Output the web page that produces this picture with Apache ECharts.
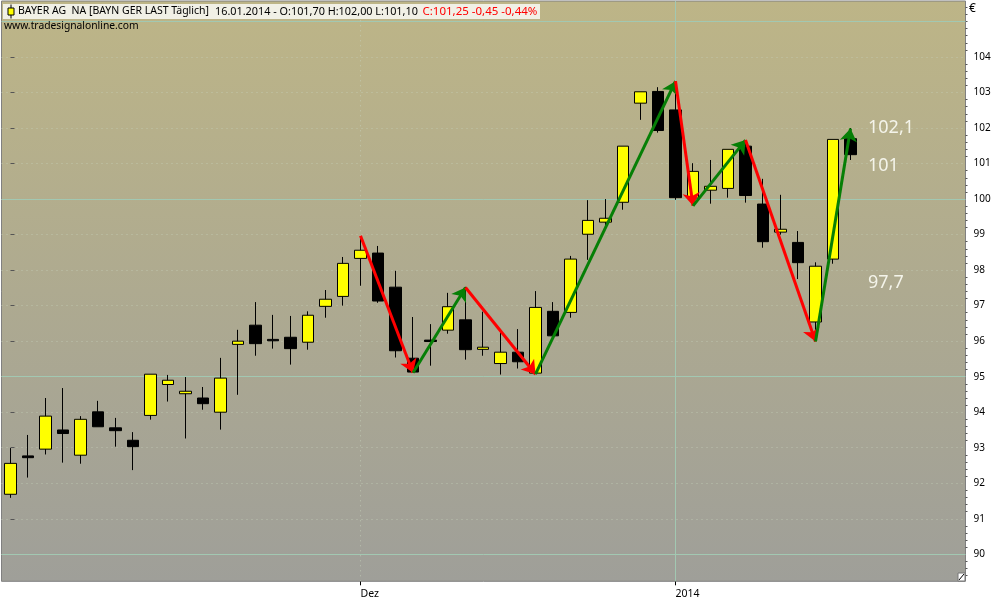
<!DOCTYPE html>
<html>
<head>
<meta charset="utf-8">
<style>html,body{margin:0;padding:0;background:#fff}#c{width:1000px;height:600px}</style>
<script src="https://cdn.jsdelivr.net/npm/echarts@6/dist/echarts.min.js"></script>
</head>
<body>
<div id="c"></div>
<script>
const opens  = [91.69,92.77,92.96,93.50,92.79,94.01,93.56,93.21,93.91,94.78,94.52,94.40,94.00,95.91,96.45,96.05,96.11,95.97,96.98,97.26,98.33,98.48,97.52,95.52,96.03,96.31,96.60,95.77,95.37,95.69,95.10,96.84,96.81,99.01,99.35,99.91,102.70,103.03,102.51,100.03,100.25,100.30,101.49,99.86,99.07,98.78,96.54,98.31,101.70];
const closes = [92.56,92.72,93.89,93.40,93.80,93.59,93.48,93.03,95.07,94.90,94.59,94.24,94.96,96.00,95.93,96.01,95.79,96.73,97.18,98.19,98.56,97.13,95.73,95.13,95.99,96.97,95.76,95.83,95.69,95.42,96.95,96.15,98.31,99.40,99.46,101.49,103.02,101.93,100.04,100.78,100.36,101.40,100.10,98.80,99.15,98.21,98.11,101.68,101.25];
const lows   = [91.59,92.16,92.81,92.58,92.55,93.59,93.03,92.37,93.79,94.30,93.26,94.07,93.51,94.49,95.59,95.79,95.34,95.76,96.66,97.00,97.56,97.08,95.54,95.13,95.31,96.21,95.48,95.59,95.06,95.23,95.10,96.15,96.66,98.29,99.19,99.70,102.23,101.87,99.98,99.86,99.87,100.04,99.90,98.63,99.00,97.75,96.32,98.18,101.10];
const highs  = [92.99,93.36,94.40,94.68,93.89,94.32,93.84,93.44,95.07,95.05,94.99,94.71,95.53,96.32,97.10,96.74,96.71,96.84,97.44,98.37,98.93,98.68,97.98,96.68,96.48,97.36,97.53,96.83,96.27,96.34,97.41,97.10,98.40,99.97,100.00,101.49,103.02,103.15,103.21,101.01,101.10,101.40,101.58,100.57,100.12,99.10,98.22,101.68,102.00];

const arrowIdx = [20,23,26,30,38,39,42,46,48];
const arrowVal = [98.97,95.11,97.51,95.07,103.32,99.81,101.66,95.99,101.99];

const yTickLabels = [90,91,92,93,94,95,96,97,98,99,100,101,102,103,104];
const solidLevels = [90,95,100,105];
const minorTicks = [89.4,89.6,89.8,90.2,90.4,90.6,90.8,91.2,91.4,91.6,91.8,92.2,92.4,92.6,92.8,93.2,93.4,93.6,93.8,94.2,94.4,94.6,94.8,95.2,95.4,95.6,95.8,96.2,96.4,96.6,96.8,97.2,97.4,97.6,97.8,98.2,98.4,98.6,98.8,99.2,99.4,99.6,99.8,100.2,100.4,100.6,100.8,101.2,101.4,101.6,101.8,102.2,102.4,102.6,102.8,103.2,103.4,103.6,103.8,104.2,104.4,104.6,104.8,105,105.2,105.4];
const xTickIdx = [20,38];
const xTickNames = ['Dez','2014'];

const YMIN = 89.24, YMAX = 105.576, XMIN = -0.514, XMAX = 54.57;
const FONT = '"Noto Sans", sans-serif';
const GRIDLINE = '#a2c8b2';
const DOTS = '#c6d2ba';

const chart = echarts.init(document.getElementById('c'));
const candleData = opens.map((o,i)=>[i,o,closes[i],lows[i],highs[i]]);
const arrows = arrowIdx.slice(0,-1).map((x,i)=>({
  coords:[[x,arrowVal[i]],[arrowIdx[i+1],arrowVal[i+1]]],
  lineStyle:{color: arrowVal[i+1]>arrowVal[i] ? '#067f06' : '#ff0000', width:3, opacity:1, curveness:0}
}));
const marks = solidLevels.map(v=>({yAxis:v,lineStyle:{color:GRIDLINE,width:1,type:'solid'}}))
  .concat([{xAxis:xTickIdx[0],lineStyle:{color:DOTS,width:1,opacity:0.7,type:[1,4]}},
           {xAxis:xTickIdx[1],lineStyle:{color:GRIDLINE,width:1,type:'solid'}}]);

function text(x,y,t,fill,size,extra){
  return Object.assign({type:'text',x:x,y:y,z:50,silent:true,
    style:{text:t,fill:fill,font:size+'px '+FONT,textVerticalAlign:'middle'}},extra||{});
}

chart.setOption({
  animation:false,
  backgroundColor:'#ffffff',
  grid:{left:1.5,right:34.5,top:1,bottom:18.7,show:true,borderColor:'#808080',borderWidth:1,
    backgroundColor:new echarts.graphic.LinearGradient(0,0,0,1,[
      {offset:0,color:'#bdb587'},{offset:1,color:'#9f9f99'}])},
  xAxis:{type:'value',min:XMIN,max:XMAX,scale:true,
    axisLine:{show:false},
    axisTick:{show:true,length:4,customValues:xTickIdx,lineStyle:{color:'#000'}},
    splitLine:{show:false},
    axisLabel:{show:true,customValues:xTickIdx,margin:7,color:'#000',fontSize:10.5,fontFamily:'"Noto Sans", sans-serif',align:'left',
      formatter:v=>xTickNames[xTickIdx.indexOf(v)]||''}},
  yAxis:[
    {type:'value',position:'right',min:YMIN,max:YMAX,scale:true,
     axisLine:{show:false},
     axisTick:{show:true,length:4,customValues:yTickLabels,lineStyle:{color:'#555'}},
     axisLabel:{show:true,customValues:yTickLabels,margin:8,color:'#000',fontSize:10,fontFamily:'"Noto Sans", sans-serif',padding:[2,0,0,0]},
     splitLine:{show:true,lineStyle:{color:DOTS,width:1,opacity:0.7,type:[1,4]}}},
    {type:'value',position:'right',min:YMIN,max:YMAX,scale:true,
     axisLine:{show:false},
     axisTick:{show:true,length:2,customValues:minorTicks,lineStyle:{color:'#555'}},
     axisLabel:{show:false},splitLine:{show:false}}
  ],
  series:[
    {type:'line',data:[],z:1,silent:true,
     markLine:{silent:true,symbol:'none',animation:false,label:{show:false},z:1,data:marks}},
    {type:'candlestick',data:candleData,barWidth:12,z:3,silent:true,
     itemStyle:{color:'#ffff00',color0:'#000000',borderColor:'#000000',borderColor0:'#000000',borderWidth:1}},
    {type:'lines',coordinateSystem:'cartesian2d',z:5,silent:true,symbol:['none','arrow'],symbolSize:[0,13],
     lineStyle:{width:3,opacity:1,curveness:0},
     data:arrows}
  ],
  graphic:[
    {type:'rect',z:40,silent:true,shape:{x:3,y:4,width:537,height:15},style:{fill:'#f1f0e6'}},
    {type:'rect',z:41,silent:true,shape:{x:10.5,y:4.5,width:1,height:14},style:{fill:'#000'}},
    {type:'rect',z:42,silent:true,shape:{x:8,y:8,width:6,height:7},style:{fill:'#ffff00',stroke:'#000',lineWidth:1}},
    text(18,11.5,'BAYER AG  NA [BAYN GER LAST Täglich]','#000',10.5),
    text(215,11.5,'16.01.2014 - O:101,70 H:102,00 L:101,10','#000',10.85),
    text(422.5,11.5,'C:101,25 -0,45 -0,44%','#ff0000',11.5),
    text(4,26.5,'www.tradesignalonline.com','#000',10.3),
    text(969,9,'€','#000',12),
    text(868,127.5,'102,1','#f4f4ea',18),
    text(868,165.5,'101','#f4f4ea',18),
    text(868,282.5,'97,7','#f4f4ea',18),
    {type:'rect',z:45,silent:true,shape:{x:958,y:573,width:7,height:8},style:{fill:'#fff',stroke:'#777',lineWidth:1}},
    {type:'line',z:46,silent:true,shape:{x1:959,y1:580,x2:964,y2:574},style:{stroke:'#000',lineWidth:1}}
  ]
});
</script>
</body>
</html>
